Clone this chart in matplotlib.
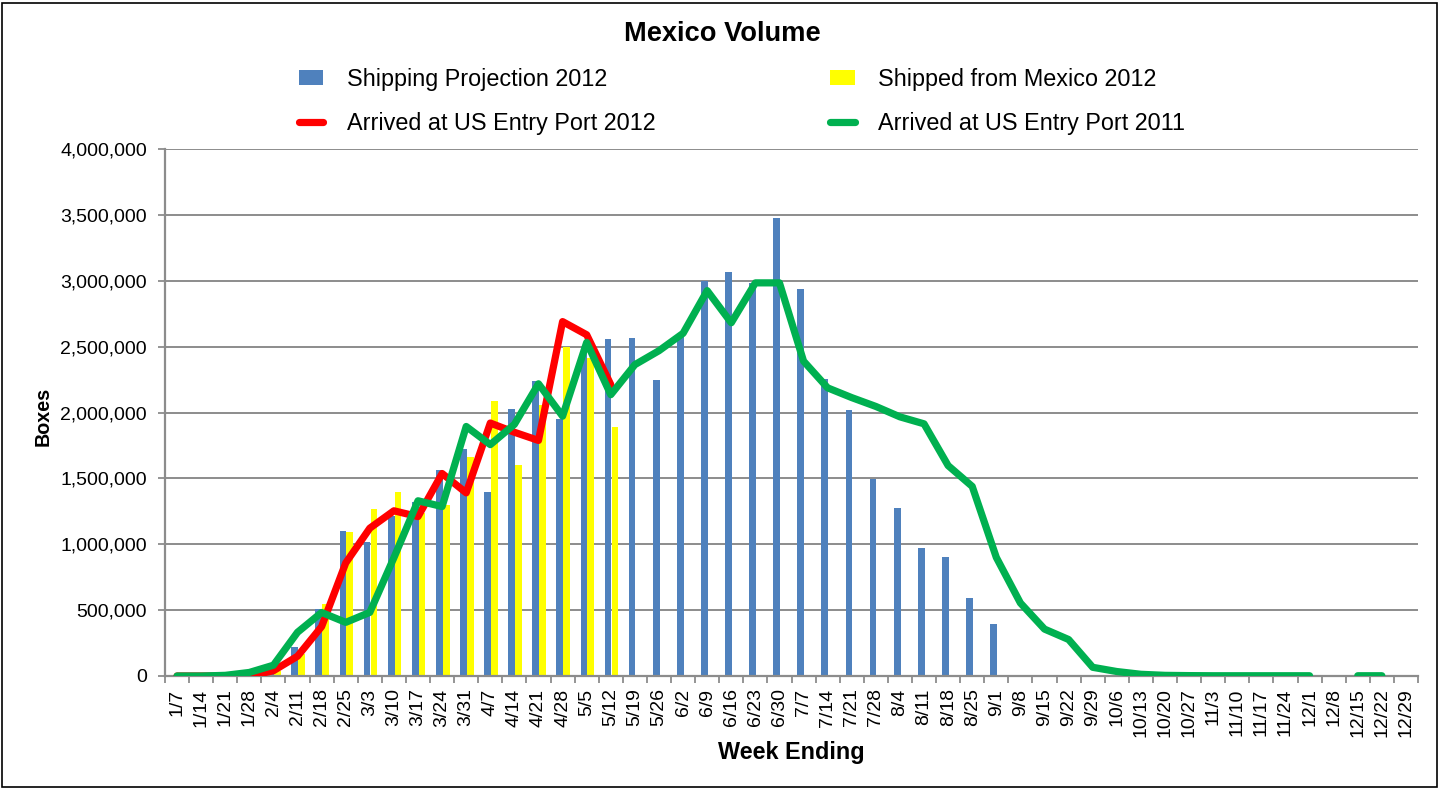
import numpy as np
import matplotlib
matplotlib.use("Agg")
import matplotlib.pyplot as plt
from matplotlib.patches import Rectangle
from matplotlib.ticker import FuncFormatter, FixedLocator

plt.rcParams['font.family'] = ['Liberation Sans', 'DejaVu Sans']

nan = np.nan

weeks = ['1/7', '1/14', '1/21', '1/28', '2/4', '2/11', '2/18', '2/25', '3/3', '3/10',
         '3/17', '3/24', '3/31', '4/7', '4/14', '4/21', '4/28', '5/5', '5/12', '5/19',
         '5/26', '6/2', '6/9', '6/16', '6/23', '6/30', '7/7', '7/14', '7/21', '7/28',
         '8/4', '8/11', '8/18', '8/25', '9/1', '9/8', '9/15', '9/22', '9/29', '10/6',
         '10/13', '10/20', '10/27', '11/3', '11/10', '11/17', '11/24', '12/1', '12/8',
         '12/15', '12/22', '12/29']

projection_2012 = [nan, nan, nan, nan, 30000, 220000, 507000, 1101000, 1020000, 1215000,
                   1322000, 1560000, 1720000, 1396000, 2025000, 2242000, 1950000, 2500000, 2555000, 2566000,
                   2250000, 2580000, 2996000, 3068000, 2985000, 3473000, 2940000, 2252000, 2016000, 1496000,
                   1278000, 975000, 904000, 592000, 391000, nan, nan, nan, nan, nan,
                   nan, nan, nan, nan, nan, nan, nan, nan, nan,
                   nan, nan, nan]

shipped_2012 = [nan, nan, nan, nan, 40000, 170000, 545000, 1095000, 1265000, 1400000,
                1235000, 1300000, 1664000, 2085000, 1605000, 2060000, 2495000, 2413000, 1892000, nan,
                nan, nan, nan, nan, nan, nan, nan, nan, nan, nan,
                nan, nan, nan, nan, nan, nan, nan, nan, nan, nan,
                nan, nan, nan, nan, nan, nan, nan, nan, nan,
                nan, nan, nan]

arrived_2012 = [0, 0, 0, 0, 40000, 150000, 375000, 858000, 1122000, 1254000,
                1210000, 1537000, 1390000, 1920000, 1850000, 1788000, 2690000, 2590000, 2212000, nan,
                nan, nan, nan, nan, nan, nan, nan, nan, nan, nan,
                nan, nan, nan, nan, nan, nan, nan, nan, nan, nan,
                nan, nan, nan, nan, nan, nan, nan, nan, nan,
                nan, nan, nan]

arrived_2011 = [0, 0, 5000, 27000, 82000, 332000, 482000, 407000, 483000, 898000,
                1330000, 1286000, 1894000, 1756000, 1910000, 2218000, 1972000, 2532000, 2135000, 2363000,
                2469000, 2601000, 2925000, 2681000, 2984000, 2984000, 2390000, 2187000, 2113000, 2046000,
                1967000, 1914000, 1597000, 1439000, 900000, 554000, 356000, 277000, 66000, 34000,
                13000, 5000, 3000, 2000, 2000, 2000, 2000, 2000, nan,
                2000, 2000, nan]

W, H = 1442, 789
fig = plt.figure(figsize=(W / 100, H / 100), dpi=100)
fig.patch.set_facecolor('white')

L, R, T, B = 165, 1418, 149, 676
ax = fig.add_axes([L / W, 1 - B / H, (R - L) / W, (B - T) / H])

x = np.arange(len(weeks))
proj = np.array(projection_2012, dtype=float)
ship = np.array(shipped_2012, dtype=float)
m1 = ~np.isnan(proj)
m2 = ~np.isnan(ship)

bw = 0.28
b1 = ax.bar(x[m1] - 0.115, proj[m1], width=bw, color='#4F81BD', zorder=2,
            label='Shipping Projection 2012')
b2 = ax.bar(x[m2] + 0.17, ship[m2], width=bw, color='#FFFF00', zorder=2,
            label='Shipped from Mexico 2012')
l1, = ax.plot(x, arrived_2012, color='#FF0000', lw=5.2, zorder=3,
              solid_joinstyle='round', solid_capstyle='round',
              label='Arrived at US Entry Port 2012')
l2, = ax.plot(x, arrived_2011, color='#00B050', lw=5.2, zorder=4,
              solid_joinstyle='round', solid_capstyle='round',
              label='Arrived at US Entry Port 2011')

ax.set_xlim(-0.5, len(weeks) - 0.5)
ax.set_ylim(0, 4000000)
ax.set_yticks(np.arange(0, 4000001, 500000))
ax.yaxis.set_major_formatter(FuncFormatter(lambda v, p: f'{int(v):,}'))
ax.grid(axis='y', color='#8C8C8C', lw=1.4, zorder=0)
ax.set_axisbelow(True)

ax.set_xticks(x)
ax.set_xticklabels(weeks, rotation=90, fontsize=14)
ax.xaxis.set_minor_locator(FixedLocator(np.arange(-0.5, len(weeks), 1.0)))
ax.tick_params(axis='x', which='major', length=0, pad=9)
ax.tick_params(axis='x', which='minor', length=5, width=1.3, color='#8C8C8C', direction='out')
ax.tick_params(axis='y', length=5, width=1.3, color='#8C8C8C', direction='out',
               labelsize=14, pad=8)

for s in ['top', 'right']:
    ax.spines[s].set_visible(False)
for s in ['left', 'bottom']:
    ax.spines[s].set_color('#8C8C8C')
    ax.spines[s].set_linewidth(1.6)

ax.set_xlabel('Week Ending', fontsize=16.8, fontweight='bold')
ax.xaxis.set_label_coords(0.5, -0.123)
ax.xaxis.label.set_va('top')
ax.set_ylabel('Boxes', fontsize=14.2, fontweight='bold')
ax.yaxis.set_label_coords((53 - L) / (R - L), 0.492)

fig.suptitle('Mexico Volume', x=722 / W, y=1 - 34 / H, va='center',
             fontsize=19.6, fontweight='bold')

leg = fig.legend([b1, l1, b2, l2],
                 ['Shipping Projection 2012', 'Arrived at US Entry Port 2012',
                  'Shipped from Mexico 2012', 'Arrived at US Entry Port 2011'],
                 ncol=2, loc='center', bbox_to_anchor=(742 / W, 1 - 101.5 / H),
                 frameon=False, fontsize=16.8, handlelength=1.05, handleheight=0.65,
                 handletextpad=1.0, columnspacing=7.5, labelspacing=0.92,
                 borderpad=0.0)

fig.patches.append(Rectangle((2 / W, 1 - 787 / H), 1435 / W, 784 / H,
                             transform=fig.transFigure, fill=False,
                             edgecolor='#000000', lw=1.2))

fig.savefig('out.png', dpi=100, facecolor='white')
